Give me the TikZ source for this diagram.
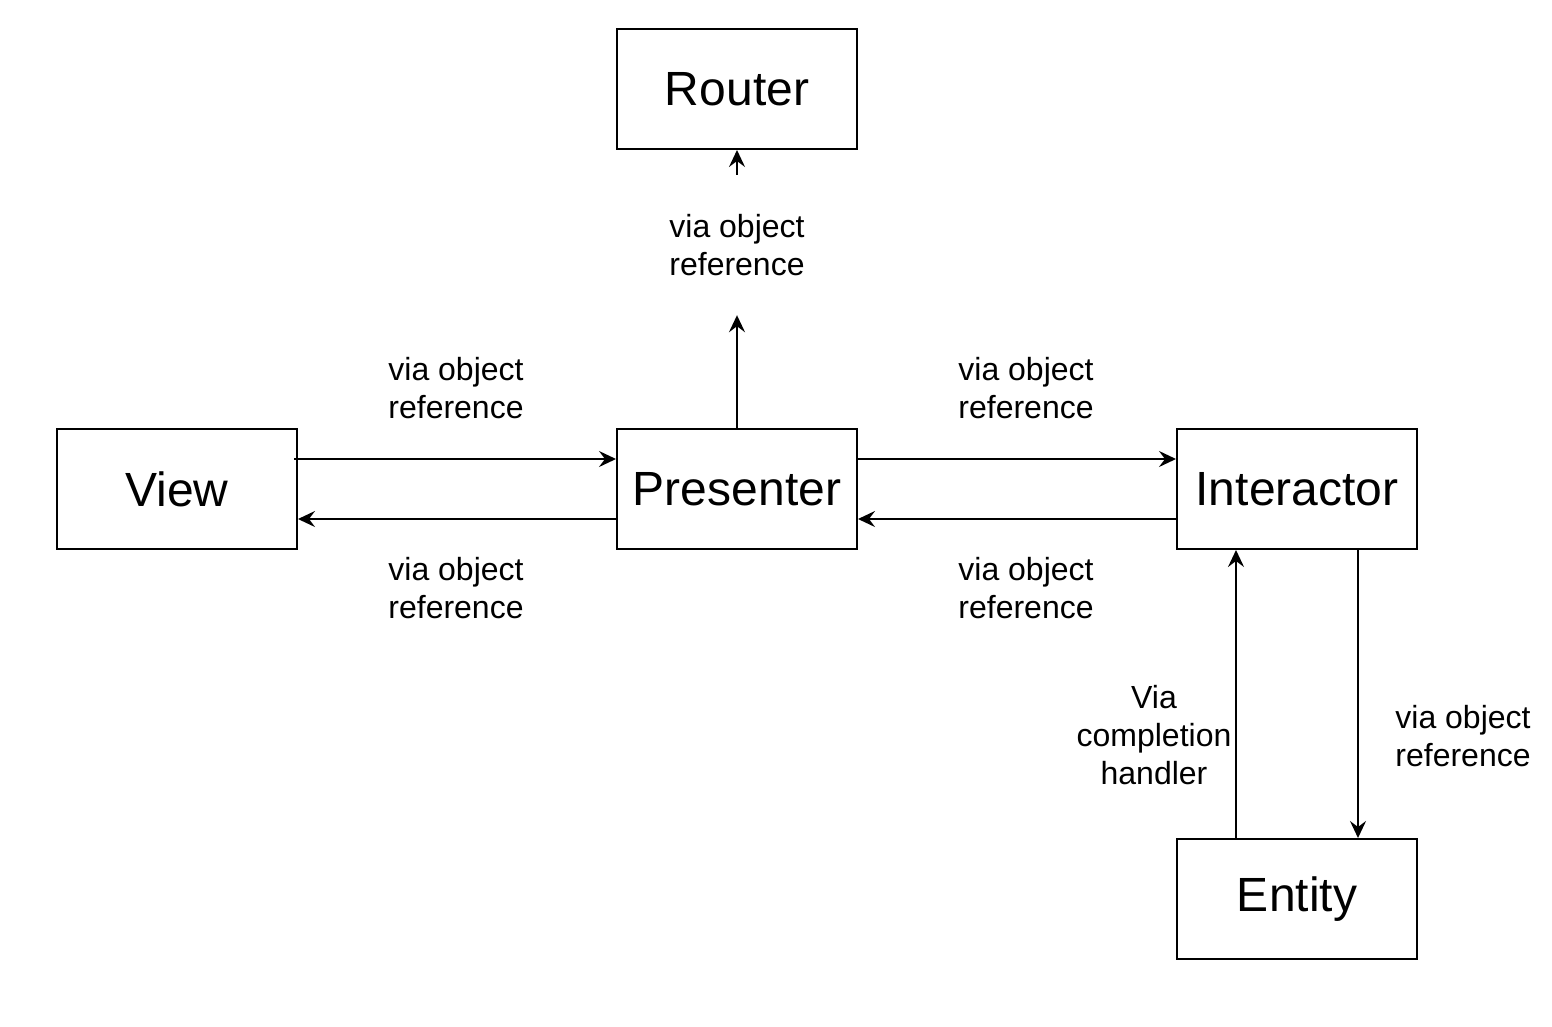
\documentclass[tikz,border=0pt]{standalone}
\usepackage{fontspec}
\setmainfont{Liberation Sans}
\usetikzlibrary{arrows.meta}
\tikzset{
  box/.style={draw, line width=2pt, minimum width=240pt, minimum height=120pt, inner sep=0pt,
    font=\fontsize{48}{57.6}\selectfont},
  lbl/.style={align=center, inner sep=0pt, font=\fontsize{32}{38.4}\selectfont},
  conn/.style={line width=2pt, -{Stealth[length=17pt,width=16pt,inset=6pt]}}
}
\begin{document}
\begin{tikzpicture}[x=1pt,y=-1pt]
\useasboundingbox (0,0) rectangle (1552,1026);
\node[box] (router) at (737,89) {Router};
\node[box] (view) at (177,489) {View};
\node[box] (presenter) at (737,489) {Presenter};
\node[box] (interactor) at (1297,489) {Interactor};
\node[box] (entity) at (1297,899) {Entity};

\node[lbl, minimum height=140pt] (rlbl) at (737,245) {via object\\reference};
\node[lbl] (l1) at (456,388) {via object\\reference};
\node[lbl] (l2) at (456,588) {via object\\reference};
\node[lbl] (l3) at (1026,388) {via object\\reference};
\node[lbl] (l4) at (1026,588) {via object\\reference};
\node[lbl] (l5) at (1154,735) {Via\\completion\\handler};
\node[lbl] (l6) at (1463,736) {via object\\reference};

\draw[conn] (presenter.north) -- (rlbl.south);
\draw[conn] (rlbl.north) -- (router.south);
\draw[conn] ([shift={(-4pt,30pt)}]view.east) -- ([yshift=30pt]presenter.west);
\draw[conn] ([yshift=-30pt]presenter.west) -- ([yshift=-30pt]view.east);
\draw[conn] ([yshift=30pt]presenter.east) -- ([yshift=30pt]interactor.west);
\draw[conn] ([yshift=-30pt]interactor.west) -- ([yshift=-30pt]presenter.east);
\draw[conn] ([xshift=-60pt]interactor.south east) -- ([xshift=-60pt]entity.north east);
\draw[conn] ([xshift=60pt]entity.north west) -- ([xshift=60pt]interactor.south west);
\end{tikzpicture}
\end{document}
